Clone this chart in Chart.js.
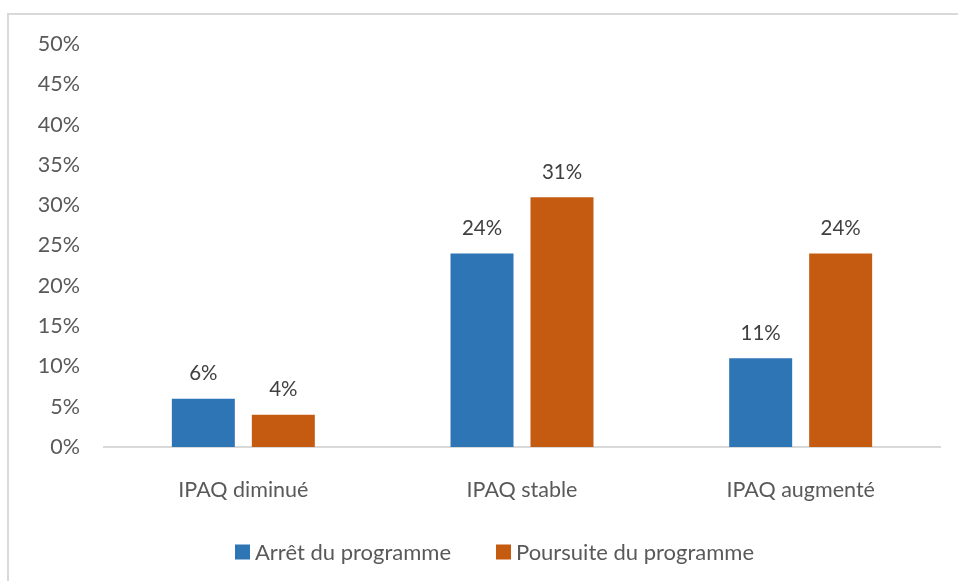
<!DOCTYPE html>
<html>
<head>
<meta charset="utf-8">
<script src="https://cdn.jsdelivr.net/npm/chart.js@4/dist/chart.umd.min.js"></script>
<style>
html,body{margin:0;padding:0;background:#fff;overflow:hidden;}
#frame{position:absolute;left:7px;top:13px;width:1000px;height:1000px;border:2px solid #d9d9d9;box-sizing:border-box;}
#wrap{position:absolute;left:0;top:0;width:958px;height:581px;}
</style>
</head>
<body>
<div id="frame"></div>
<div id="wrap"><canvas id="c" width="958" height="581"></canvas></div>
<script>
const categories = ["IPAQ diminué", "IPAQ stable", "IPAQ augmenté"];
const seriesNames = ["Arrêt du programme", "Poursuite du programme"];
const arretValues = [6, 24, 11];
const poursuiteValues = [4, 31, 24];
const yTicks = [0, 5, 10, 15, 20, 25, 30, 35, 40, 45, 50];
const seriesColors = ['#2E75B6', '#C55A11'];

const FONT = "Lato";
const dataLabels = {
  id: 'dataLabels',
  afterDatasetsDraw(chart) {
    const ctx = chart.ctx;
    ctx.save();
    ctx.font = "20.5px " + FONT;
    ctx.fillStyle = "#404040";
    ctx.textAlign = "center";
    ctx.textBaseline = "middle";
    chart.data.datasets.forEach((ds, i) => {
      chart.getDatasetMeta(i).data.forEach((bar, j) => {
        ctx.fillText(ds.data[j] + "%", bar.x, bar.y - 25);
      });
    });
    ctx.restore();
  }
};

const customLegend = {
  id: 'customLegend',
  afterDraw(chart) {
    const ctx = chart.ctx;
    ctx.save();
    ctx.font = "22px " + FONT;
    ctx.textBaseline = "middle";
    ctx.textAlign = "left";
    const box = 15, gapText = 5, gapItem = 45;
    const items = chart.data.datasets.map(ds => ({ label: ds.label, color: ds.backgroundColor, w: ctx.measureText(ds.label).width }));
    let total = 0;
    items.forEach((it, i) => { total += box + gapText + it.w + (i < items.length - 1 ? gapItem : 0); });
    let x = 494.5 - total / 2;
    const cy = 552;
    items.forEach(it => {
      ctx.fillStyle = it.color;
      ctx.fillRect(x, cy - box / 2, box, box);
      ctx.fillStyle = '#595959';
      ctx.fillText(it.label, x + box + gapText, cy + 1);
      x += box + gapText + it.w + gapItem;
    });
    ctx.restore();
  }
};

new Chart(document.getElementById('c'), {
  type: 'bar',
  data: {
    labels: categories,
    datasets: [
      { label: seriesNames[0], data: arretValues, backgroundColor: seriesColors[0] },
      { label: seriesNames[1], data: poursuiteValues, backgroundColor: seriesColors[1] }
    ]
  },
  options: {
    responsive: false,
    animation: false,
    devicePixelRatio: 1,
    layout: { padding: { top: 44, right: 18, bottom: 49, left: 0 } },
    datasets: { bar: { categoryPercentage: 0.574, barPercentage: 0.7875 } },
    scales: {
      x: {
        grid: { display: false },
        border: { display: true, color: '#d9d9d9', width: 2 },
        ticks: { color: '#595959', font: { family: FONT, size: 21.5 }, padding: 22 },
        afterFit(s) { s.height = 85; }
      },
      y: {
        min: 0, max: 50,
        afterBuildTicks(s) { s.ticks = yTicks.map(v => ({ value: v })); },
        grid: { display: false },
        border: { display: false },
        ticks: { color: '#595959', font: { family: FONT, size: 21.5 }, padding: 16, callback: v => v + '%' },
        afterFit(s) { s.width = 104; }
      }
    },
    plugins: {
      legend: { display: false },
      tooltip: { enabled: false }
    }
  },
  plugins: [dataLabels, customLegend]
});
</script>
</body>
</html>
